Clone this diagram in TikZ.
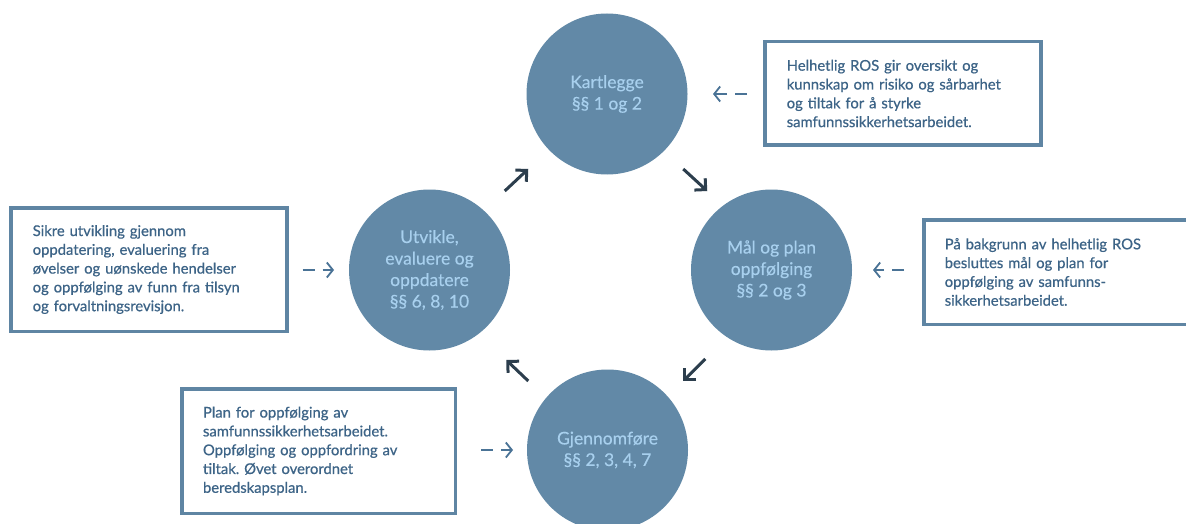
\documentclass[tikz,border=0pt]{standalone}
\usepackage{fontspec}
\setmainfont{Lato}
\newfontfamily\boxfont[FakeBold=0.6]{Lato}
\newfontfamily\stagefont[FakeBold=0.3]{Lato}
\usetikzlibrary{arrows.meta,calc}
\definecolor{circ}{HTML}{6289A7}
\definecolor{circtext}{HTML}{A8D0EE}
\definecolor{boxline}{HTML}{5F85A3}
\definecolor{boxtext}{HTML}{3D6487}
\definecolor{flowc}{HTML}{2C3E4D}
\definecolor{hint}{HTML}{4A7396}
\frenchspacing
\begin{document}
\begin{tikzpicture}[x=1pt,y=-1pt,
 stage/.style={circle, fill=circ, minimum size=161pt, inner sep=0pt, outer sep=0pt,
   text=circtext, align=center, font=\stagefont\fontsize{17.5}{21.5}\selectfont},
 infobox/.style={draw=boxline, line width=3.5pt, fill=white, rectangle,
   inner xsep=22pt, inner ysep=0pt, outer sep=0pt, text=boxtext, align=left,
   font=\boxfont\fontsize{14.8}{18.8}\selectfont, anchor=north west, text width=232pt},
 flow/.style={draw=flowc, line width=3pt, -{Straight Barb[length=8pt,width=16pt]}},
 hintarrow/.style={draw=hint, line width=1.8pt, dash pattern=on 12pt off 8pt,
   -{Straight Barb[length=6pt,width=15pt]}}
]
\path[use as bounding box, clip] (0,0) rectangle (1186,524);
\fill[white] (0,0) rectangle (1186,524);

% stages
\node[stage] (k) at (607,94) {Kartlegge\\§§ 1 og 2};
\node[stage] (m) at (771.5,270) {Mål og plan\\oppfølging\\§§ 2 og 3};
\node[stage] (g) at (607.5,450) {Gjennomføre\\§§ 2, 3, 4, 7};
\node[stage] (u) at (429.5,270) {Utvikle,\\evaluere og\\oppdatere\\§§ 6, 8, 10};

% boxes
\node[infobox, minimum width=275.5pt, minimum height=103.5pt] (kbox) at (764.75,41.75)
 {Helhetlig ROS gir oversikt og\\kunnskap om risiko og sårbarhet\\og tiltak for å styrke\\samfunnssikkerhetsarbeidet.};
\node[infobox, minimum width=275.5pt, minimum height=123.5pt] (ubox) at (10.75,207.75)
 {Sikre utvikling gjennom\\oppdatering, evaluering fra\\øvelser og uønskede hendelser\\og oppfølging av funn fra tilsyn\\og forvaltningsrevisjon.};
\node[infobox, minimum width=290pt, minimum height=104.5pt, inner xsep=21pt, text width=248pt] (mbox) at (923.75,219.75)
 {På bakgrunn av helhetlig ROS\\besluttes mål og plan for\\oppfølging av samfunns-\\sikkerhetsarbeidet.};
\node[infobox, minimum width=273.5pt, minimum height=124.5pt, inner xsep=21.25pt, text width=231pt] (gbox) at (181.75,388.75)
 {Plan for oppfølging av\\samfunnssikkerhetsarbeidet.\\Oppfølging og oppfordring av\\tiltak. Øvet overordnet\\beredskapsplan.};

% cycle arrows
\draw[flow] ($(u)!0.5!(k)+(-13.5,9)$) -- ($(u)!0.5!(k)+(10,-13)$);
\draw[flow] ($(k)!0.5!(m)+(-6,-13)$) -- ($(k)!0.5!(m)+(18,9)$);
\draw[flow] ($(m)!0.5!(g)+(15.75,-1)$) -- ($(m)!0.5!(g)+(-6.25,21)$);
\draw[flow] ($(g)!0.5!(u)+(9.75,21)$) -- ($(g)!0.5!(u)+(-12.25,0)$);

% hint arrows
\draw[hintarrow, shorten <=17.75pt, shorten >=25.5pt] (kbox.west |- k.east) -- (k.east);
\draw[hintarrow, shorten <=15.75pt, shorten >=15pt] (ubox.east |- u.west) -- (u.west);
\draw[hintarrow, shorten <=19.75pt, shorten >=21pt] (mbox.west |- m.east) -- (m.east);
\draw[hintarrow, shorten <=25.75pt, shorten >=14pt] (gbox.east |- g.west) -- (g.west);
\end{tikzpicture}
\end{document}
